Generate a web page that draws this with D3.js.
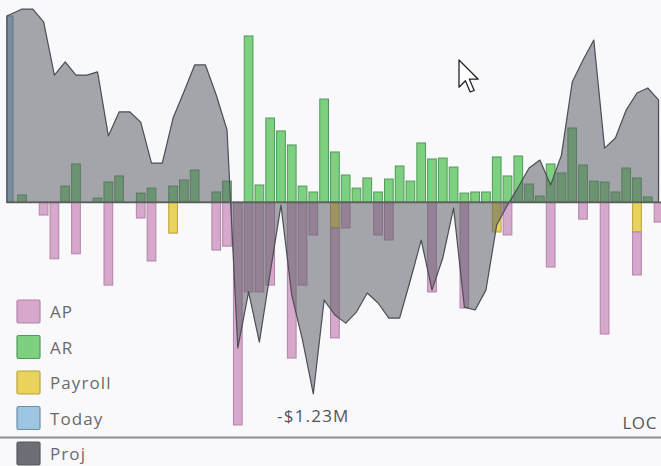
<!DOCTYPE html>
<html>
<head>
<meta charset="utf-8">
<script src="https://cdn.jsdelivr.net/npm/d3@7/dist/d3.min.js"></script>
<style>
  html, body { margin: 0; padding: 0; background: #f9f9fb; }
  svg { display: block; }
  text { font-family: "Open Sans", "Noto Sans", sans-serif; }
</style>
</head>
<body>
<svg id="chart" width="661" height="466"></svg>
<script>
// Day index of each bucket along the cash-flow timeline
const days = [0,1,2,3,4,5,6,7,8,9,10,11,12,13,14,15,16,17,18,19,20,
  21,22,23,24,25,26,27,28,29,30,31,32,33,34,35,36,37,38,39,40,
  41,42,43,44,45,46,47,48,49,50,51,52,53,54,55,56,57,58,59,60];

// Values in $K per day
const ar = [0,48,0,0,0,105,247,0,28,131,170,0,60,92,0,105,144,208,0,67,137,
  0,1069,112,542,459,369,105,67,664,324,176,92,157,67,150,234,137,382,279,285,
  227,60,67,67,292,170,298,118,41,247,189,478,240,137,131,67,221,157,35,0];

const ap = [0,0,0,-81,-362,0,-330,0,0,-531,0,0,-100,-376,0,0,0,0,0,-306,-281,
  -1429,-575,-575,-531,0,-999,-531,-209,0,-706,-164,0,0,-209,-241,0,0,0,-575,0,
  0,-678,0,0,0,-209,0,0,0,-415,0,0,-107,0,-845,0,0,-276,0,-126];

const payroll = [0,0,0,0,0,0,0,0,0,0,0,0,0,0,0,-197,0,0,0,0,0,
  0,0,0,0,0,0,0,0,0,-164,0,0,0,0,0,0,0,0,0,0,
  0,0,0,0,-190,0,0,0,0,0,0,0,0,0,0,0,0,-190,0,0];

const today = [1197,0,0,0,0,0,0,0,0,0,0,0,0,0,0,0,0,0,0,0,0,
  0,0,0,0,0,0,0,0,0,0,0,0,0,0,0,0,0,0,0,0,
  0,0,0,0,0,0,0,0,0,0,0,0,0,0,0,0,0,0,0,0];

// Projected balance
const proj = [1197,1242,1242,1159,818,902,818,818,838,427,581,581,516,253,253,542,709,883,883,690,465,
  -935,-575,-897,-453,-17,-595,-884,-1230,-627,-723,-775,-704,-582,-646,-743,-743,-498,-242,-563,-357,
  -36,-672,-691,-563,-145,-17,99,221,272,112,304,773,915,1043,349,414,593,703,735,658];

const legendItems = ["AP", "AR", "Payroll", "Today"];
const projLabel = "Proj";
const minLabel = "-$1.23M";
const cornerLabel = "LOC";

const colors = {
  AP:      { fill: "#d6a8cb", stroke: "#b183a6" },
  AR:      { fill: "#7dd07f", stroke: "#4f9a57" },
  Payroll: { fill: "#ead35c", stroke: "#b9a23c" },
  Today:   { fill: "#9cc5e0", stroke: "#6d8ea8" },
  Proj:    { fill: "#5e6168", stroke: "#4b4e55" }
};

const W = 661, H = 466;
const svg = d3.select("#chart");
svg.append("rect").attr("width", W).attr("height", H).attr("fill", "#f9f9fb");

const x = d3.scaleBand().domain(days).range([6.4, 663.4]).paddingInner(0.1).paddingOuter(0);
const y = d3.scaleLinear().domain([-1500, 1300]).range([436, 0]);

const plot = svg.append("g");
plot.append("clipPath").attr("id", "plotclip")
  .append("rect").attr("x", 0).attr("y", 0).attr("width", W).attr("height", 440);
const g = plot.append("g").attr("clip-path", "url(#plotclip)");

function drawBars(values, start, key, widthFrac) {
  const bw = (x.bandwidth() - 1) * (widthFrac || 1);
  g.append("g").selectAll("rect")
    .data(days.filter(d => values[d] !== 0))
    .join("rect")
    .attr("x", d => x(d) + 0.5)
    .attr("width", bw)
    .attr("y", d => y(Math.max(start[d], start[d] + values[d])))
    .attr("height", d => Math.abs(y(start[d] + values[d]) - y(start[d])))
    .attr("fill", colors[key].fill)
    .attr("stroke", colors[key].stroke)
    .attr("stroke-width", 1);
}

const zero = days.map(() => 0);
drawBars(today, zero, "Today", 0.7);
drawBars(ar, zero, "AR");
drawBars(payroll, zero, "Payroll");
drawBars(ap, payroll, "AP");

// Projected balance as a translucent area over the bars;
// the opening day starts at the band edge so it covers the "today" bar
const px = d => d === days[0] ? x(d) + 0.5 : x(d) + x.bandwidth() / 2;
const area = d3.area()
  .x(px)
  .y0(y(0))
  .y1(d => y(proj[d]))
  .curve(d3.curveLinear);

g.append("path")
  .datum(days)
  .attr("d", area)
  .attr("fill", colors.Proj.fill)
  .attr("fill-opacity", 0.55)
  .attr("stroke", colors.Proj.stroke)
  .attr("stroke-width", 1.2)
  .attr("stroke-linejoin", "round");

// Zero line
g.append("line")
  .attr("x1", px(days[0])).attr("x2", W)
  .attr("y1", y(0)).attr("y2", y(0))
  .attr("stroke", "#59605b").attr("stroke-width", 1.8);

// Minimum balance label
const minDay = d3.minIndex(proj);
svg.append("text")
  .attr("x", x(minDay) + x.bandwidth() / 2)
  .attr("y", y(proj[minDay]) + 28)
  .attr("text-anchor", "middle")
  .attr("font-size", 17)
  .attr("letter-spacing", 1.2)
  .attr("fill", "#555")
  .text(minLabel);

// Bottom rule and corner label
svg.append("line")
  .attr("x1", 0).attr("x2", W).attr("y1", 437.5).attr("y2", 437.5)
  .attr("stroke", "#8e8e92").attr("stroke-width", 2);
svg.append("text")
  .attr("x", 657).attr("y", 429)
  .attr("text-anchor", "end")
  .attr("font-size", 17)
  .attr("letter-spacing", 0.6)
  .attr("fill", "#555")
  .text(cornerLabel);

// Legend
const legend = svg.append("g");
const rows = legendItems.map((k, i) => ({ key: k, y: 300 + i * 35.5 }));
rows.push({ key: projLabel, y: 442 });
rows.forEach(r => {
  legend.append("rect")
    .attr("x", 17).attr("y", r.y).attr("width", 23).attr("height", 23)
    .attr("rx", 1.5)
    .attr("fill", r.key === projLabel ? "#6b6e74" : colors[r.key].fill)
    .attr("stroke", r.key === projLabel ? "#55585e" : colors[r.key].stroke)
    .attr("stroke-width", 1.2);
  legend.append("text")
    .attr("x", 50).attr("y", r.y + 18)
    .attr("font-size", 17)
    .attr("letter-spacing", 1.1)
    .attr("fill", "#6a6a6a")
    .text(r.key);
});

// Mouse pointer
svg.append("path")
  .attr("transform", "translate(459,60) scale(1.6)")
  .attr("d", "M0,0 L0,17 L4,13 L7,20 L9.5,19 L6.5,12 L12,12 Z")
  .attr("fill", "#fff")
  .attr("stroke", "#222")
  .attr("stroke-width", 0.8)
  .attr("stroke-linejoin", "round");
</script>
</body>
</html>
